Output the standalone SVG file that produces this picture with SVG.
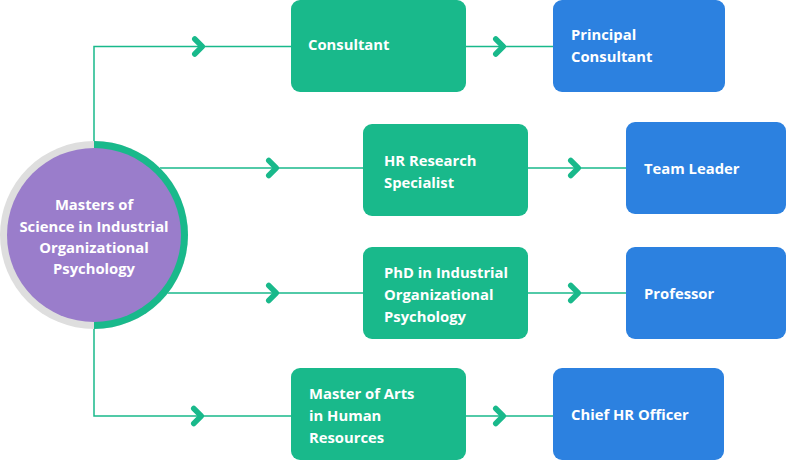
<svg xmlns="http://www.w3.org/2000/svg" width="786" height="461" viewBox="0 0 786 461">
<style>
.ln{fill:none;stroke:#19B98B;stroke-width:1.5}
.ch{fill:none;stroke:#19B98B;stroke-width:5.5;stroke-linecap:round;stroke-linejoin:round}
.g{fill:#19B98B}
.b{fill:#2C81E0}
.t{font-family:"Open Sans","Noto Sans",sans-serif;font-weight:700;font-size:14.8px;fill:#ffffff}
.c{text-anchor:middle}
</style>
<rect width="786" height="461" fill="#ffffff"/>
<g id="connectors">
<path class="ln" d="M94,141 V46.5 H291"/>
<path class="ln" d="M466,46.5 H553"/>
<path class="ln" d="M160,168 H363"/>
<path class="ln" d="M528,168 H626"/>
<path class="ln" d="M160,293 H363"/>
<path class="ln" d="M528,293 H626"/>
<path class="ln" d="M94,329 V416 H291"/>
<path class="ln" d="M466,416 H553"/>
<polyline class="ch" points="194.75,39 202.25,46.5 194.75,54"/>
<polyline class="ch" points="495.75,39 503.25,46.5 495.75,54"/>
<polyline class="ch" points="268.75,160.5 276.25,168 268.75,175.5"/>
<polyline class="ch" points="570.75,160.5 578.25,168 570.75,175.5"/>
<polyline class="ch" points="268.75,285.5 276.25,293 268.75,300.5"/>
<polyline class="ch" points="570.75,285.5 578.25,293 570.75,300.5"/>
<polyline class="ch" points="193.75,408.5 201.25,416 193.75,423.5"/>
<polyline class="ch" points="495.75,408.5 503.25,416 495.75,423.5"/>
</g>
<g id="center">
<circle cx="94" cy="235" r="94" fill="#DEDEDE"/>
<path d="M94,141 A94,94 0 0 1 94,329 Z" fill="#19B98B"/>
<circle cx="94" cy="235" r="87" fill="#9A7DCB"/>
<text class="t c" x="94" y="210">Masters of</text>
<text class="t c" x="94" y="232">Science in Industrial</text>
<text class="t c" x="94" y="253">Organizational</text>
<text class="t c" x="94" y="274">Psychology</text>
</g>
<g id="consultant">
<rect class="g" x="291" y="0" width="175" height="92" rx="9"/>
<text class="t" x="308" y="50">Consultant</text>
</g>
<g id="principal-consultant">
<rect class="b" x="553" y="0" width="172" height="92" rx="9"/>
<text class="t" x="571" y="40">Principal</text>
<text class="t" x="571" y="62">Consultant</text>
</g>
<g id="hr-research">
<rect class="g" x="363" y="124" width="165" height="92" rx="9"/>
<text class="t" x="384" y="166">HR Research</text>
<text class="t" x="384" y="188">Specialist</text>
</g>
<g id="team-leader">
<rect class="b" x="626" y="122" width="160" height="92" rx="9"/>
<text class="t" x="644" y="174">Team Leader</text>
</g>
<g id="phd">
<rect class="g" x="363" y="247" width="165" height="92" rx="9"/>
<text class="t" x="384" y="278">PhD in Industrial</text>
<text class="t" x="384" y="300">Organizational</text>
<text class="t" x="384" y="322">Psychology</text>
</g>
<g id="professor">
<rect class="b" x="626" y="247" width="160" height="92" rx="9"/>
<text class="t" x="644" y="299">Professor</text>
</g>
<g id="master-arts">
<rect class="g" x="291" y="368" width="175" height="92" rx="9"/>
<text class="t" x="309" y="399">Master of Arts</text>
<text class="t" x="309" y="421">in Human</text>
<text class="t" x="309" y="443">Resources</text>
</g>
<g id="chief-hr">
<rect class="b" x="553" y="368" width="171" height="92" rx="9"/>
<text class="t" x="571" y="420">Chief HR Officer</text>
</g>
</svg>
